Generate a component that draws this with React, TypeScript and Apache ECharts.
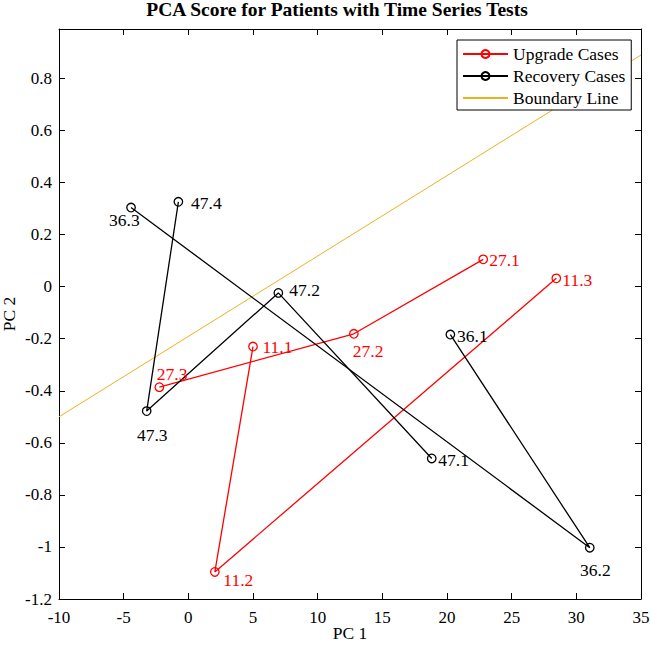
import React, { useEffect, useRef } from "react";
import * as echarts from "echarts";

// ---- data ----
const upgrade11: number[][] = [[5.0, -0.23], [2.05, -1.096], [28.45, 0.032]];
const upgrade11Labels = ["11.1", "11.2", "11.3"];
const upgrade27: number[][] = [[22.8, 0.105], [12.8, -0.181], [-2.24, -0.386]];
const upgrade27Labels = ["27.1", "27.2", "27.3"];
const recovery36: number[][] = [[20.26, -0.184], [31.04, -1.003], [-4.43, 0.304]];
const recovery36Labels = ["36.1", "36.2", "36.3"];
const recovery47: number[][] = [[18.82, -0.66], [6.96, -0.024], [-3.22, -0.478], [-0.77, 0.326]];
const recovery47Labels = ["47.1", "47.2", "47.3", "47.4"];
const boundary: number[][] = [[-10, -0.5], [35, 0.89]];

const xMin = -10, xMax = 35, xStep = 5;
const yMin = -1.2, yMax = 0.99, yStep = 0.2;

const legendNames = ["Upgrade Cases", "Recovery Cases", "Boundary Line"];

// ---- label layout (styling only) ----
type LL = { align: string; offset: number[] };
const layout11: LL[] = [
  { align: "left", offset: [9.4, 0] },
  { align: "left", offset: [8.5, 8] },
  { align: "left", offset: [6, 1.5] },
];
const layout27: LL[] = [
  { align: "left", offset: [6, 1] },
  { align: "center", offset: [14.3, 17] },
  { align: "center", offset: [12.7, -13.5] },
];
const layout36: LL[] = [
  { align: "left", offset: [6.7, 1] },
  { align: "center", offset: [5.6, 22] },
  { align: "center", offset: [-6.7, 12.5] },
];
const layout47: LL[] = [
  { align: "left", offset: [6.6, 1.5] },
  { align: "left", offset: [11, -3.3] },
  { align: "center", offset: [5.5, 24] },
  { align: "left", offset: [12.7, 1.5] },
];

const FONT = "'Liberation Serif', 'Times New Roman', serif";
const RED = "#ff0000";
const BLACK = "#000000";
const ORANGE = "#EDB120";
const FS = 17.5;

function makeSeries(name: string, color: string, pts: number[][], labels: string[], lay: LL[]) {
  return {
    type: "line",
    name,
    xAxisIndex: 0,
    yAxisIndex: 0,
    data: pts.map((p, i) => ({
      value: p,
      label: {
        show: true,
        position: "inside",
        align: lay[i].align,
        verticalAlign: "middle",
        offset: lay[i].offset,
        formatter: labels[i],
        color,
        fontSize: FS,
        fontFamily: FONT,
      },
    })),
    symbol: "circle",
    symbolSize: 8.5,
    showAllSymbol: true,
    itemStyle: { color: "rgba(255,255,255,0)", borderColor: color, borderWidth: 1.3 },
    lineStyle: { color, width: 1.3 },
    emphasis: { disabled: true },
    z: 3,
  };
}

export default function App() {
  const ref = useRef<HTMLDivElement>(null);
  useEffect(() => {
    if (!ref.current) return;
    const chart = echarts.init(ref.current, undefined, { renderer: "svg" });
    const axisCommon = {
      type: "value",
      axisLine: { show: true, onZero: false, lineStyle: { color: BLACK, width: 1 } },
      axisTick: { show: true, inside: true, length: 6, lineStyle: { color: BLACK, width: 1 } },
      splitLine: { show: false },
    };
    const fmt = (v: number) => String(Math.round(v * 10) / 10);
    chart.setOption({
      animation: false,
      backgroundColor: "#fff",
      title: {
        text: "PCA Score for Patients with Time Series Tests",
        left: 337,
        top: -1,
        padding: 0,
        textAlign: "center",
        textStyle: { fontFamily: FONT, fontSize: 19.5, fontWeight: "bold", color: BLACK },
      },
      grid: { left: 59, right: 9, top: 29, bottom: 51, containLabel: false, outerBoundsMode: "none" },
      legend: {
        data: [
          { name: legendNames[0] },
          { name: legendNames[1] },
          { name: legendNames[2], itemStyle: { opacity: 0 } },
        ],
        orient: "vertical",
        left: 457,
        top: 40,
        itemWidth: 45,
        itemHeight: 10,
        itemGap: 4,
        padding: [5, 6, 3, 5],
        borderColor: BLACK,
        borderWidth: 1,
        backgroundColor: "#fff",
        textStyle: { fontFamily: FONT, fontSize: FS, color: BLACK, lineHeight: 18 },
      },
      xAxis: [
        {
          ...axisCommon,
          position: "bottom",
          min: xMin,
          max: xMax,
          interval: xStep,
          name: "PC 1",
          nameLocation: "middle",
          nameGap: 25,
          nameMoveOverlap: false,
          nameTextStyle: { fontFamily: FONT, fontSize: FS, color: BLACK },
          axisLabel: { fontFamily: FONT, fontSize: 17, color: BLACK, margin: 10, formatter: fmt },
        },
        {
          ...axisCommon,
          position: "top",
          min: xMin,
          max: xMax,
          interval: xStep,
          axisLabel: { show: false },
        },
      ],
      yAxis: [
        {
          ...axisCommon,
          position: "left",
          min: yMin,
          max: yMax,
          interval: yStep,
          name: "PC 2",
          nameLocation: "middle",
          nameGap: 41,
          nameMoveOverlap: false,
          nameTextStyle: { fontFamily: FONT, fontSize: FS, color: BLACK },
          axisLabel: { fontFamily: FONT, fontSize: 17, color: BLACK, margin: 7, formatter: fmt, showMaxLabel: false },
        },
        {
          ...axisCommon,
          position: "right",
          min: yMin,
          max: yMax,
          interval: yStep,
          axisLabel: { show: false },
        },
      ],
      series: [
        makeSeries("Upgrade Cases", RED, upgrade11, upgrade11Labels, layout11),
        makeSeries("Upgrade Cases", RED, upgrade27, upgrade27Labels, layout27),
        makeSeries("Recovery Cases", BLACK, recovery36, recovery36Labels, layout36),
        makeSeries("Recovery Cases", BLACK, recovery47, recovery47Labels, layout47),
        {
          type: "line",
          name: "Boundary Line",
          data: boundary,
          symbol: "none",
          lineStyle: { color: ORANGE, width: 1 },
          itemStyle: { color: ORANGE },
          emphasis: { disabled: true },
          z: 2,
        },
      ],
    });
    return () => chart.dispose();
  }, []);
  return (
    <div
      ref={ref}
      style={{ position: "fixed", left: 0, top: 0, width: 650, height: 650, background: "#fff" }}
    />
  );
}
